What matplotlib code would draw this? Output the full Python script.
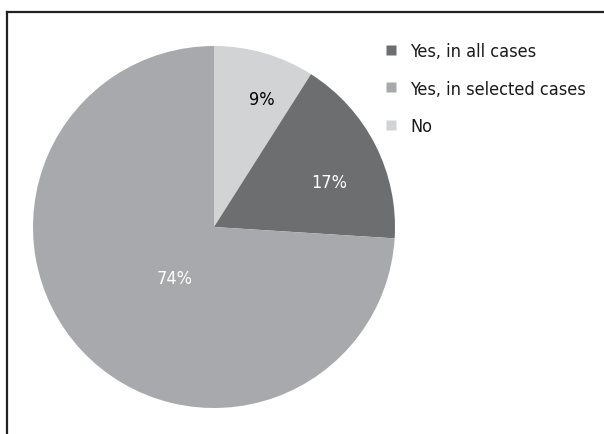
import matplotlib.pyplot as plt
from matplotlib.lines import Line2D

plt.rcParams['font.family'] = ['DejaVu Sans']
plt.rcParams['font.stretch'] = 'condensed'

# slices in drawing order, clockwise from 12 o'clock
slice_names = ['No', 'Yes, in all cases', 'Yes, in selected cases']
slice_values = [9, 17, 74]
slice_colors = ['#d1d3d4', '#6d6e70', '#a7a9ac']
text_colors = ['black', 'white', 'white']
label_pos = [(0.265, 0.705), (0.635, 0.25), (-0.215, -0.28)]

legend_order = ['Yes, in all cases', 'Yes, in selected cases', 'No']

fig = plt.figure(figsize=(6.04, 4.35), dpi=100)
W, H = 604, 435
cx, cy, r = 214, 228, 181
ax = fig.add_axes([(cx - r) / W, (H - cy - r) / H, 2 * r / W, 2 * r / H])

wedges, _, pcts = ax.pie(slice_values, colors=slice_colors, startangle=90,
                         counterclock=False, radius=1,
                         autopct='%d%%', textprops={'fontsize': 13})
for t, c, p in zip(pcts, text_colors, label_pos):
    t.set_color(c)
    t.set_position(p)
ax.set_xlim(-1, 1)
ax.set_ylim(-1, 1)
ax.set_aspect('equal')

handles = []
for name in legend_order:
    i = slice_names.index(name)
    handles.append(Line2D([], [], marker='s', linestyle='none', markersize=7.5,
                          markerfacecolor=slice_colors[i], markeredgecolor='none'))
fig.legend(handles, legend_order, loc='upper left', bbox_to_anchor=(375 / W, 1 - 36 / H),
           frameon=False, fontsize=13, handletextpad=0.55, labelspacing=1.08,
           handlelength=1.0, borderaxespad=0, labelcolor='#1a1a1a')

# top and left frame lines
fig.add_artist(Line2D([6.5 / W, 1], [1 - 12.5 / H, 1 - 12.5 / H], color='#222222', lw=1.6))
fig.add_artist(Line2D([6.5 / W, 6.5 / W], [0, 1 - 12.5 / H], color='#222222', lw=1.6))

fig.savefig('out.png', dpi=100)
